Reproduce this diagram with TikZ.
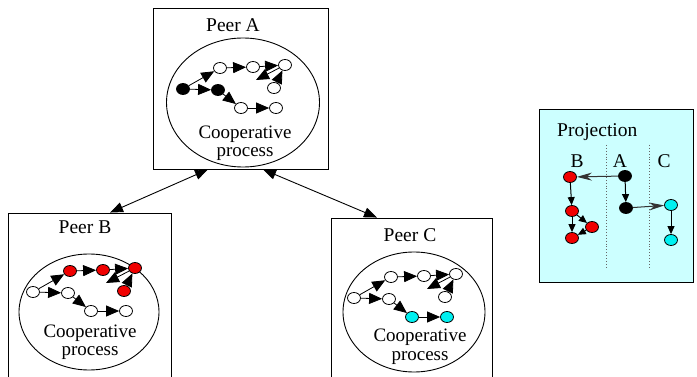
\documentclass[tikz,border=0pt]{standalone}
\usepackage{fontspec}
\setmainfont{Liberation Serif}
\usetikzlibrary{shapes.geometric,arrows.meta}

\definecolor{projbg}{RGB}{204,255,255}
\definecolor{stcyan}{RGB}{0,240,240}
\definecolor{stred}{RGB}{240,0,0}

\tikzset{
  peerbox/.style={draw, rectangle, line width=0.9pt, inner sep=0pt},
  procell/.style={draw, ellipse, line width=0.9pt, inner sep=0pt},
  st/.style={draw, ellipse, line width=0.8pt, minimum width=13pt, minimum height=11pt, inner sep=0pt},
  flow/.style={-{Triangle[length=13pt,width=11pt]}, line width=0.8pt},
  link/.style={{Triangle[length=13pt,width=10pt]}-{Triangle[length=13pt,width=10pt]}, line width=0.9pt},
  lbl/.style={font=\fontsize{19.5}{22}\selectfont, inner sep=0pt, anchor=base},
  caption/.style={font=\fontsize{19}{18.5}\selectfont, inner sep=0pt, align=center},
  pflow/.style={-{Triangle[length=8pt,width=7pt]}, line width=1pt},
  pproj/.style={-{Stealth[length=15pt,width=8pt,inset=5pt]}, line width=1pt, draw=black!80},
  divider/.style={dotted, line width=0.9pt, draw=black!60},
}

% one cooperative process: start state p1, upper chain p2..p5, lower chain q1..q3
\newcommand\flowgraph[8]{%
  \node[st, fill=#1] (p1) at (0,0) {};
  \node[st, fill=#2] (p2) at (37,-21) {};
  \node[st, fill=#3] (p3) at (70,-22) {};
  \node[st, fill=#4] (p4) at (102,-24) {};
  \node[st, fill=#5] (p5) at (91,-1) {};
  \node[st, fill=#6] (q1) at (35,1) {};
  \node[st, fill=#7] (q2) at (58,19) {};
  \node[st, fill=#8] (q3) at (93,19) {};
  \coordinate (t) at (73,-9);
  \draw[flow] (p1) -- (p2);
  \draw[flow] (p2) -- (p3);
  \draw[flow] (p3) -- (p4);
  \draw[flow] (p4) -- (t);
  \draw[flow] (p5) -- (p4);
  \draw[flow] (p1) -- (q1);
  \draw[flow] (q1) -- (q2);
  \draw[flow] (q2) -- (q3);
}

\begin{document}
\begin{tikzpicture}[x=1pt, y=-1pt]
  \clip (0,0) rectangle (697,377);
  \fill[white] (0,0) rectangle (697,377);

  % peers
  \node[peerbox, minimum width=175pt, minimum height=161pt] (peerA) at (240.5,88.5) {};
  \node[peerbox, minimum width=163pt, minimum height=180pt] (peerB) at (89.5,303) {};
  \node[peerbox, minimum width=161pt, minimum height=180pt] (peerC) at (411.5,308) {};

  \node[procell, minimum width=153pt, minimum height=129pt] (cellA) at (243,102.5) {};
  \node[procell, minimum width=140pt, minimum height=116pt] (cellB) at (89,312) {};
  \node[procell, minimum width=142pt, minimum height=120pt] (cellC) at (414,312) {};

  \node[lbl] (titleA) at (233,32) {Peer A};
  \node[lbl] (titleB) at (85,234) {Peer B};
  \node[lbl] (titleC) at (410,242) {Peer C};

  \node[caption] (coopA) at (245,143) {Cooperative\\process};
  \node[caption] (coopB) at (90,342) {Cooperative\\process};
  \node[caption] (coopC) at (420,346.5) {Cooperative\\process};

  \begin{scope}[shift={(183,89)}, name prefix=a-]
    \flowgraph{black}{white}{white}{white}{white}{black}{white}{white}
  \end{scope}
  \begin{scope}[shift={(33,292)}, name prefix=b-]
    \flowgraph{white}{stred}{stred}{stred}{stred}{white}{white}{white}
  \end{scope}
  \begin{scope}[shift={(354,298)}, name prefix=c-]
    \flowgraph{white}{white}{white}{white}{white}{white}{stcyan}{stcyan}
  \end{scope}

  % links between peers
  \draw[link] ([xshift=-32.5pt]peerA.south) -- ([xshift=20.5pt]peerB.north);
  \draw[link] ([xshift=22.5pt]peerA.south) -- ([xshift=-34.5pt]peerC.north);

  % projection panel
  \node[draw, rectangle, fill=projbg, line width=0.9pt, minimum width=154pt, minimum height=173pt] (proj) at (616,195.5) {};
  \node[lbl, anchor=base west] (projtitle) at (557,137) {Projection};
  \node[lbl] (colB) at (577,168) {B};
  \node[lbl] (colA) at (620,168) {A};
  \node[lbl] (colC) at (664,168) {C};

  \coordinate (d1top) at (606,145);
  \coordinate (d1bot) at (606,268);
  \coordinate (d2top) at (649,145);
  \coordinate (d2bot) at (649,268);
  \draw[divider] (d1top) -- (d1bot);
  \draw[divider] (d2top) -- (d2bot);

  \node[st, fill=stred] (r1) at (570,177) {};
  \node[st, fill=stred] (r2) at (572,211) {};
  \node[st, fill=stred] (r3) at (592,227) {};
  \node[st, fill=stred] (r4) at (572,238) {};
  \node[st, fill=black] (k1) at (625,176) {};
  \node[st, fill=black] (k2) at (626,208) {};
  \node[st, fill=stcyan] (c1) at (671,205) {};
  \node[st, fill=stcyan] (c2) at (671,240) {};

  \draw[pproj] (k1) -- (r1);
  \draw[pflow] (k1) -- (k2);
  \draw[pproj] (k2) -- (c1);
  \draw[pflow] (r1) -- (r2);
  \draw[pflow] (r2) -- (r3);
  \draw[pflow] (r2) -- (r4);
  \draw[pflow] (r3) -- (r4);
  \draw[pflow] (c1) -- (c2);
\end{tikzpicture}
\end{document}
